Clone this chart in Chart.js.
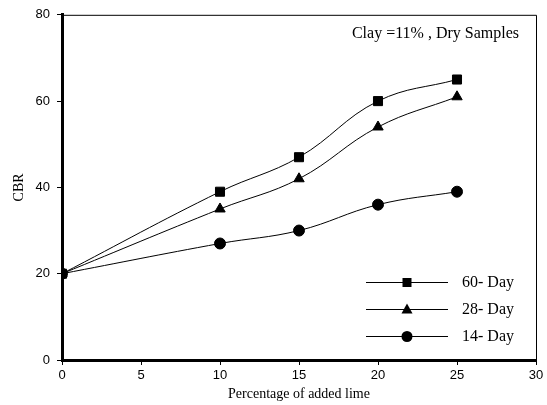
<!DOCTYPE html>
<html>
<head>
<meta charset="utf-8">
<script src="https://cdn.jsdelivr.net/npm/chart.js@4"></script>
<style>
  html, body { margin: 0; padding: 0; background: #fff; }
  #wrap { width: 547px; height: 405px; }
</style>
</head>
<body>
<div id="wrap"><canvas id="cbrChart"></canvas></div>
<script>
// Data
const limePercent = [0, 10, 15, 20, 25];
const cbr60Day = [20, 39, 47, 60, 65];
const cbr28Day = [20, 35, 42, 54, 61];
const cbr14Day = [20, 27, 30, 36, 39];
const seriesLabels = ["60- Day", "28- Day", "14- Day"];
const noteText = "Clay =11% , Dry Samples";

const serif = "'Liberation Serif', 'Times New Roman', serif";
const sans = "'Liberation Sans', Arial, sans-serif";

function toPoints(values) {
  return limePercent.map((x, i) => ({ x: x, y: values[i] }));
}

// draw a marker by hand (for the legend)
function drawMarker(ctx, style, x, y) {
  ctx.beginPath();
  if (style === "rect") {
    ctx.rect(x - 4.5, y - 4.5, 9, 9);
  } else if (style === "triangle") {
    ctx.moveTo(x, y - 6);
    ctx.lineTo(x + 5.5, y + 4);
    ctx.lineTo(x - 5.5, y + 4);
    ctx.closePath();
  } else {
    ctx.arc(x, y, 5.5, 0, Math.PI * 2);
  }
  ctx.fill();
}

// box, note text and legend
const extrasPlugin = {
  id: "extras",
  afterDatasetsDraw(chart) {
    const ctx = chart.ctx;
    const a = chart.chartArea;
    ctx.save();
    // thin top and right frame
    ctx.strokeStyle = "#000";
    ctx.lineWidth = 1;
    ctx.beginPath();
    ctx.moveTo(a.left, a.top + 0.5);
    ctx.lineTo(a.right + 0.5, a.top + 0.5);
    ctx.lineTo(a.right + 0.5, a.bottom);
    ctx.stroke();

    // note
    ctx.fillStyle = "#000";
    ctx.font = "16px " + serif;
    ctx.textAlign = "right";
    ctx.textBaseline = "middle";
    ctx.fillText(noteText, a.right - 17, a.top + 19);

    // legend
    const styles = ["rect", "triangle", "circle"];
    ctx.textAlign = "left";
    for (let i = 0; i < seriesLabels.length; i++) {
      const y = a.bottom - 78 + i * 27;
      ctx.beginPath();
      ctx.moveTo(a.right - 170, y + 0.5);
      ctx.lineTo(a.right - 88, y + 0.5);
      ctx.stroke();
      drawMarker(ctx, styles[i], a.right - 129, y + 0.5);
      ctx.fillText(seriesLabels[i], a.right - 74, y + 1);
    }
    ctx.restore();
  }
};

const common = {
  borderColor: "#000",
  backgroundColor: "#000",
  pointBackgroundColor: "#000",
  pointBorderColor: "#000",
  borderWidth: 1,
  tension: 0.4,
  fill: false
};

new Chart(document.getElementById("cbrChart").getContext("2d"), {
  type: "line",
  data: {
    datasets: [
      Object.assign({ label: seriesLabels[2], data: toPoints(cbr14Day), pointStyle: "circle", pointRadius: 5.5, order: 0 }, common),
      Object.assign({ label: seriesLabels[1], data: toPoints(cbr28Day), pointStyle: "triangle", pointRadius: 6, order: 1 }, common),
      Object.assign({ label: seriesLabels[0], data: toPoints(cbr60Day), pointStyle: "rect", pointRadius: 6.4, order: 2 }, common)
    ]
  },
  options: {
    responsive: true,
    maintainAspectRatio: false,
    animation: false,
    layout: { padding: { top: 10, right: 11, left: 0, bottom: 0 } },
    plugins: {
      legend: { display: false },
      tooltip: { enabled: false }
    },
    scales: {
      x: {
        type: "linear",
        min: 0,
        max: 30,
        ticks: { stepSize: 5, color: "#000", font: { family: sans, size: 13 }, padding: 3 },
        grid: { drawOnChartArea: false, drawTicks: true, tickLength: 5, color: "#000" },
        border: { color: "#000", width: 3 },
        title: { display: true, text: "Percentage of added lime", color: "#000", font: { family: serif, size: 14 }, padding: { top: 0, bottom: 2 } },
        afterFit(scale) { scale.height = 45; }
      },
      y: {
        min: 0,
        max: 80,
        ticks: { stepSize: 20, color: "#000", font: { family: sans, size: 13 }, padding: 7 },
        grid: { drawOnChartArea: false, drawTicks: true, tickLength: 5, color: "#000" },
        border: { color: "#000", width: 3 },
        title: { display: true, text: "CBR", color: "#000", font: { family: serif, size: 14 }, padding: { top: 11, bottom: 0 } },
        afterFit(scale) { scale.width = 62; }
      }
    }
  },
  plugins: [extrasPlugin]
});
</script>
</body>
</html>
